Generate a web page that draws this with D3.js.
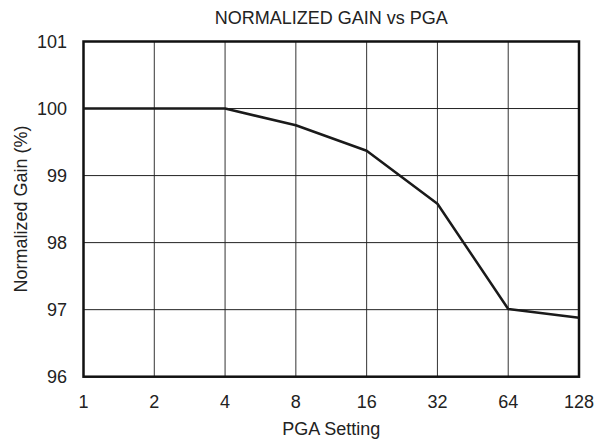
<!DOCTYPE html>
<html>
<head>
<meta charset="utf-8">
<script src="https://cdn.jsdelivr.net/npm/d3@7"></script>
<style>
  body { margin: 0; background: #fff; }
  text { font-family: "Liberation Sans", Arial, sans-serif; fill: #222; }
</style>
</head>
<body>
<div id="plot"></div>
<script>
// chart data
const pgaSettings = [1, 2, 4, 8, 16, 32, 64, 128];
const normalizedGain = [100, 100, 100, 99.75, 99.37, 98.58, 97.01, 96.88];
const yTicks = [96, 97, 98, 99, 100, 101];

const width = 602,
    height = 443;
const margin = {top: 41.5, right: 23, bottom: 66.3, left: 83.5};

const svg = d3.select("#plot")
  .append("svg")
    .attr("width", width)
    .attr("height", height);

// log2 spacing on x, linear on y
const x = d3.scaleLog().base(2)
  .domain([1, 128])
  .range([margin.left, width - margin.right]);

const y = d3.scaleLinear()
  .domain([96, 101])
  .range([height - margin.bottom, margin.top]);

// grid lines
svg.append("g")
  .selectAll("line")
  .data(pgaSettings)
  .join("line")
    .attr("x1", d => x(d)).attr("x2", d => x(d))
    .attr("y1", y(96)).attr("y2", y(101))
    .attr("stroke", "#333")
    .attr("stroke-width", 1);

svg.append("g")
  .selectAll("line")
  .data(yTicks)
  .join("line")
    .attr("x1", x(1)).attr("x2", x(128))
    .attr("y1", d => y(d)).attr("y2", d => y(d))
    .attr("stroke", "#222")
    .attr("stroke-width", 1);

// frame
svg.append("rect")
  .attr("x", x(1))
  .attr("y", y(101))
  .attr("width", x(128) - x(1))
  .attr("height", y(96) - y(101))
  .attr("fill", "none")
  .attr("stroke", "#111")
  .attr("stroke-width", 2.5);

// tick labels
svg.append("g")
  .selectAll("text")
  .data(pgaSettings)
  .join("text")
    .attr("x", d => x(d))
    .attr("y", 407.5)
    .attr("text-anchor", "middle")
    .style("font-size", "18px")
    .text(d => d);

svg.append("g")
  .selectAll("text")
  .data(yTicks)
  .join("text")
    .attr("x", 67)
    .attr("y", d => y(d) + 6.5)
    .attr("text-anchor", "end")
    .style("font-size", "18px")
    .text(d => d);

// the curve
const line = d3.line()
  .x((d, i) => x(pgaSettings[i]))
  .y(d => y(d));

svg.append("path")
  .datum(normalizedGain)
  .attr("d", line)
  .attr("fill", "none")
  .attr("stroke", "#1a1a1a")
  .attr("stroke-width", 2.5)
  .attr("stroke-linejoin", "round");

// titles
svg.append("text")
  .attr("x", (x(1) + x(128)) / 2)
  .attr("y", 24)
  .attr("text-anchor", "middle")
  .style("font-size", "18px")
  .text("NORMALIZED GAIN vs PGA");

svg.append("text")
  .attr("x", (x(1) + x(128)) / 2)
  .attr("y", 435)
  .attr("text-anchor", "middle")
  .style("font-size", "18px")
  .text("PGA Setting");

svg.append("text")
  .attr("transform", `translate(27, ${(y(96) + y(101)) / 2}) rotate(-90)`)
  .attr("text-anchor", "middle")
  .style("font-size", "18px")
  .text("Normalized Gain (%)");
</script>
</body>
</html>
